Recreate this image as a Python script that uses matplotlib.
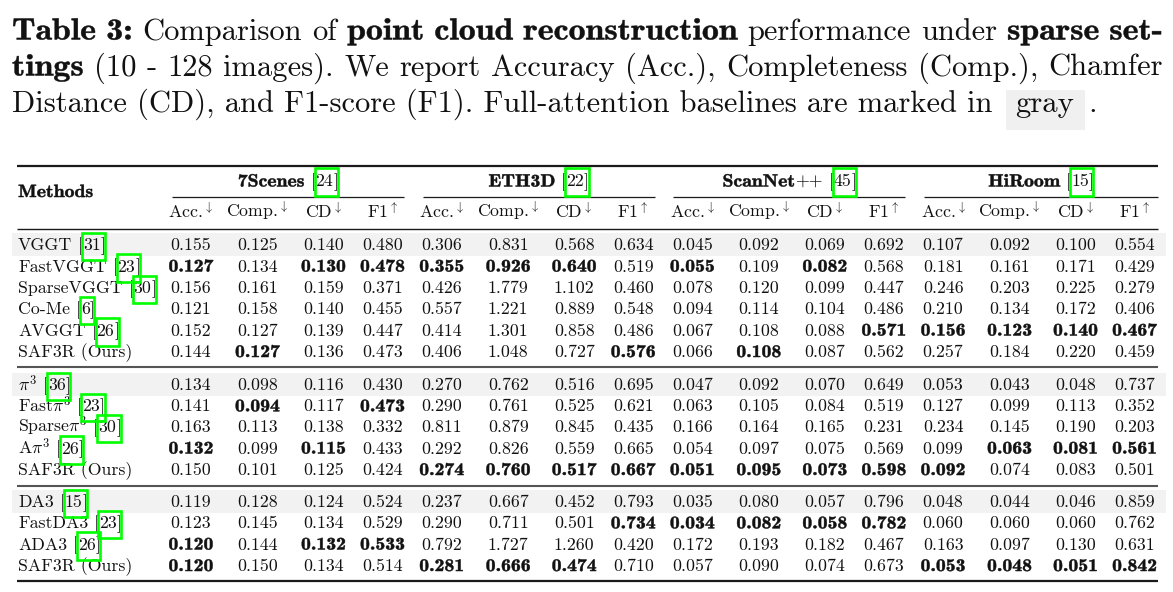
import matplotlib
matplotlib.use("Agg")
import matplotlib.pyplot as plt
from matplotlib.font_manager import FontProperties
from matplotlib.patches import Rectangle, PathPatch
from matplotlib.textpath import TextPath
from matplotlib.transforms import Affine2D

plt.rcParams['mathtext.fontset'] = 'cm'
plt.rcParams['axes.formatter.use_mathtext'] = True

# ---------------- data ----------------
datasets = ["7Scenes", "ETH3D", "ScanNet++", "HiRoom"]
dataset_cites = ["24", "22", "45", "15"]
metrics = ["Acc.", "Comp.", "CD", "F1"]
metric_arrows = ["\\downarrow", "\\downarrow", "\\downarrow", "\\uparrow"]

block1_names = ["VGGT", "FastVGGT", "SparseVGGT", "Co-Me", "AVGGT", "SAF3R (Ours)"]
block1_cites = ["31", "23", "30", "6", "26", ""]
block1_values = [
    [0.155, 0.125, 0.140, 0.480, 0.306, 0.831, 0.568, 0.634, 0.045, 0.092, 0.069, 0.692, 0.107, 0.092, 0.100, 0.554],
    [0.127, 0.134, 0.130, 0.478, 0.355, 0.926, 0.640, 0.519, 0.055, 0.109, 0.082, 0.568, 0.181, 0.161, 0.171, 0.429],
    [0.156, 0.161, 0.159, 0.371, 0.426, 1.779, 1.102, 0.460, 0.078, 0.120, 0.099, 0.447, 0.246, 0.203, 0.225, 0.279],
    [0.121, 0.158, 0.140, 0.455, 0.557, 1.221, 0.889, 0.548, 0.094, 0.114, 0.104, 0.486, 0.210, 0.134, 0.172, 0.406],
    [0.152, 0.127, 0.139, 0.447, 0.414, 1.301, 0.858, 0.486, 0.067, 0.108, 0.088, 0.571, 0.156, 0.123, 0.140, 0.467],
    [0.144, 0.127, 0.136, 0.473, 0.406, 1.048, 0.727, 0.576, 0.066, 0.108, 0.087, 0.562, 0.257, 0.184, 0.220, 0.459],
]
block1_bold = [
    "0000000000000000",
    "1011111010100000",
    "0000000000000000",
    "0000000000000000",
    "0000000000011111",
    "0100000101000000",
]

block2_names = ["$\\pi^3$", "Fast$\\pi^3$", "Sparse$\\pi^3$", "A$\\pi^3$", "SAF3R (Ours)"]
block2_cites = ["36", "23", "30", "26", ""]
block2_values = [
    [0.134, 0.098, 0.116, 0.430, 0.270, 0.762, 0.516, 0.695, 0.047, 0.092, 0.070, 0.649, 0.053, 0.043, 0.048, 0.737],
    [0.141, 0.094, 0.117, 0.473, 0.290, 0.761, 0.525, 0.621, 0.063, 0.105, 0.084, 0.519, 0.127, 0.099, 0.113, 0.352],
    [0.163, 0.113, 0.138, 0.332, 0.811, 0.879, 0.845, 0.435, 0.166, 0.164, 0.165, 0.231, 0.234, 0.145, 0.190, 0.203],
    [0.132, 0.099, 0.115, 0.433, 0.292, 0.826, 0.559, 0.665, 0.054, 0.097, 0.075, 0.569, 0.099, 0.063, 0.081, 0.561],
    [0.150, 0.101, 0.125, 0.424, 0.274, 0.760, 0.517, 0.667, 0.051, 0.095, 0.073, 0.598, 0.092, 0.074, 0.083, 0.501],
]
block2_bold = [
    "0000000000000000",
    "0101000000000000",
    "0000000000000000",
    "1010000000000111",
    "0000111111111000",
]

block3_names = ["DA3", "FastDA3", "ADA3", "SAF3R (Ours)"]
block3_cites = ["15", "23", "26", ""]
block3_values = [
    [0.119, 0.128, 0.124, 0.524, 0.237, 0.667, 0.452, 0.793, 0.035, 0.080, 0.057, 0.796, 0.048, 0.044, 0.046, 0.859],
    [0.123, 0.145, 0.134, 0.529, 0.290, 0.711, 0.501, 0.734, 0.034, 0.082, 0.058, 0.782, 0.060, 0.060, 0.060, 0.762],
    [0.120, 0.144, 0.132, 0.533, 0.792, 1.727, 1.260, 0.420, 0.172, 0.193, 0.182, 0.467, 0.163, 0.097, 0.130, 0.631],
    [0.120, 0.150, 0.134, 0.514, 0.281, 0.666, 0.474, 0.710, 0.057, 0.090, 0.074, 0.673, 0.053, 0.048, 0.051, 0.842],
]
block3_bold = [
    "0000000000000000",
    "0000000111110000",
    "1011000000000000",
    "1000111000001111",
]

caption_line1 = [("Table", 1), ("3:", 1), ("Comparison", 0), ("of", 0), ("point", 1), ("cloud", 1),
                 ("reconstruction", 1), ("performance", 0), ("under", 0), ("sparse", 1), ("set-", 1)]
caption_line2 = [("tings", 1), ("(10", 0), ("-", 0), ("128", 0), ("images).", 0), ("We", 0), ("report", 0),
                 ("Accuracy", 0), ("(Acc.),", 0), ("Completeness", 0), ("(Comp.),", 0), ("Chamfer", 0)]
caption_line3 = "Distance (CD), and F1-score (F1). Full-attention baselines are marked in"
caption_box_word = "gray"

# ---------------- figure ----------------
W, H = 1173, 592
fig = plt.figure(figsize=(W / 100, H / 100), dpi=100)
ax = fig.add_axes([0, 0, 1, 1])
ax.set_xlim(0, W)
ax.set_ylim(H, 0)
ax.axis('off')
fig.patch.set_facecolor('white')
renderer = fig.canvas.get_renderer()

TXT = '#111111'
GREEN = '#00ff00'
BOLD_STRETCH = 1.11   # cmb10 -> approximate the wider bold-extended face


def fp(bold=False, size=12.8):
    return FontProperties(family='cmb10' if bold else 'cmr10', size=size)


def is_bold(prop):
    return 'cmb10' in prop.get_family()


def tw(s, prop):
    if not s:
        return 0.0
    w, h, d = renderer.get_text_width_height_descent(s, prop, ismath=('$' in s))
    if is_bold(prop):
        w *= BOLD_STRETCH
    return w


def space_w(prop):
    return tw("x x", prop) - tw("xx", prop)


def put(x, y, s, prop, ha='left', color=TXT, zorder=3):
    if is_bold(prop):
        w = tw(s, prop)
        if ha == 'center':
            x = x - w / 2
        elif ha == 'right':
            x = x - w
        size_px = prop.get_size_in_points() * 100 / 72
        path = TextPath((0, 0), s, size=size_px, prop=prop)
        tr = Affine2D().scale(BOLD_STRETCH, -1).translate(x, y) + ax.transData
        ax.add_patch(PathPatch(path, transform=tr, facecolor=color, edgecolor=color,
                               lw=0.35, zorder=zorder))
    else:
        ax.text(x, y, s, fontproperties=prop, ha=ha, va='baseline', color=color, zorder=zorder)


# ---------------- caption ----------------
cap_size = 20.0
target3 = 994 - 12
cap_size = cap_size * target3 / tw(caption_line3, fp(False, cap_size))
CR = fp(False, cap_size)
CB = fp(True, cap_size)
left_x, right_x = 12, 1163
cap_base = [39.5, 75.5, 111.5]


def justified(tokens, y):
    props = [CB if b else CR for _, b in tokens]
    widths = [tw(t, p) for (t, _), p in zip(tokens, props)]
    gap = (right_x - left_x - sum(widths)) / (len(tokens) - 1)
    x = left_x
    for (t, _), p, w in zip(tokens, props, widths):
        put(x, y, t, p)
        x += w + gap


justified(caption_line1, cap_base[0])
justified(caption_line2, cap_base[1])
put(left_x, cap_base[2], caption_line3, CR)
x_end = left_x + tw(caption_line3, CR)
sp = space_w(CR)
box_l = x_end + sp + 3
gw = tw(caption_box_word, CR)
box_r = box_l + gw + 21
ax.add_patch(Rectangle((box_l, cap_base[2] - 22), box_r - box_l, 40, facecolor='#f0f0f0',
                       edgecolor='none', zorder=1))
put(box_l + 10, cap_base[2], caption_box_word, CR)
put(box_r + 3, cap_base[2], ".", CR)

# ---------------- table layout ----------------
TS = 12.8
R = fp(False, TS)
B = fp(True, TS)
rule_l, rule_r = 17, 1158
group_start0, group_pitch, group_w = 172, 250.7, 232
col_offsets = [19, 85.5, 151.5, 210.5]
col_x = [group_start0 + g * group_pitch + o for g in range(4) for o in col_offsets]


def hline(y, lw, color='#1a1a1a', x0=rule_l, x1=rule_r):
    ax.plot([x0, x1], [y, y], color=color, lw=lw, solid_capstyle='butt', zorder=4)


def cite_box(x0, x1, yc):
    ax.add_patch(Rectangle((x0 - 1, yc - 13), (x1 - x0) + 5.5, 27.5, fill=False,
                           edgecolor=GREEN, lw=1.9, zorder=5))


hline(165.5, 1.6)
# group headers
for g, (name, cite) in enumerate(zip(datasets, dataset_cites)):
    gx0 = group_start0 + g * group_pitch
    gx1 = gx0 + group_w if g < 3 else rule_r
    cx = (gx0 + gx1) / 2
    if name.endswith("++"):
        parts = [(name[:-2], B), ("++", R)]
    else:
        parts = [(name, B)]
    parts += [(" [", R), (cite, R), ("]", R)]
    sp_b = space_w(R)
    widths = []
    for s, p in parts:
        if s == " [":
            widths.append(sp_b + tw("[", p))
        else:
            widths.append(tw(s, p))
    x = cx - sum(widths) / 2
    yb = 186.5
    for (s, p), w in zip(parts, widths):
        if s == " [":
            put(x + sp_b, yb, "[", p)
        else:
            put(x, yb, s, p)
        if s == cite:
            cite_box(x, x + w, 181)
        x += w
    hline(196.5, 0.9, x0=gx0, x1=gx1)

put(18, 197, "Methods", B)
for i, x in enumerate(col_x):
    m = i % 4
    put(x, 217.5, metrics[m] + "$^{" + metric_arrows[m] + "}$", R, ha='center')

hline(228.5, 1.0)

blocks = [
    (block1_names, block1_cites, block1_values, block1_bold, [244, 265.5, 287, 308, 329.5, 351]),
    (block2_names, block2_cites, block2_values, block2_bold, [384, 405.3, 426.3, 447.5, 469]),
    (block3_names, block3_cites, block3_values, block3_bold, [501, 522.3, 543.5, 565]),
]
sep_lines = [366.5, 485.5]

for bi, (names, cites, vals, bolds, ys) in enumerate(blocks):
    # gray full-attention baseline row
    ax.add_patch(Rectangle((12, ys[0] - 11.5), 1166 - 12, 23.5, facecolor='#f2f2f2',
                           edgecolor='none', zorder=1))
    for r, (nm, ct, row, bl, yc) in enumerate(zip(names, cites, vals, bolds, ys)):
        yb = yc + 6
        x = 18
        put(x, yb, nm, R)
        if ct:
            x += tw(nm, R) + space_w(R)
            put(x, yb, "[", R)
            x += tw("[", R)
            put(x, yb, ct, R)
            wn = tw(ct, R)
            cite_box(x, x + wn, yc + 1.5)
            put(x + wn, yb, "]", R)
        for c, (v, b) in enumerate(zip(row, bl)):
            put(col_x[c], yb, f"{v:.3f}", B if b == '1' else R, ha='center')
    if bi < len(sep_lines):
        hline(sep_lines[bi], 1.5, color='#555555')

hline(581, 1.6)

fig.savefig("out.png", dpi=100, facecolor='white')
